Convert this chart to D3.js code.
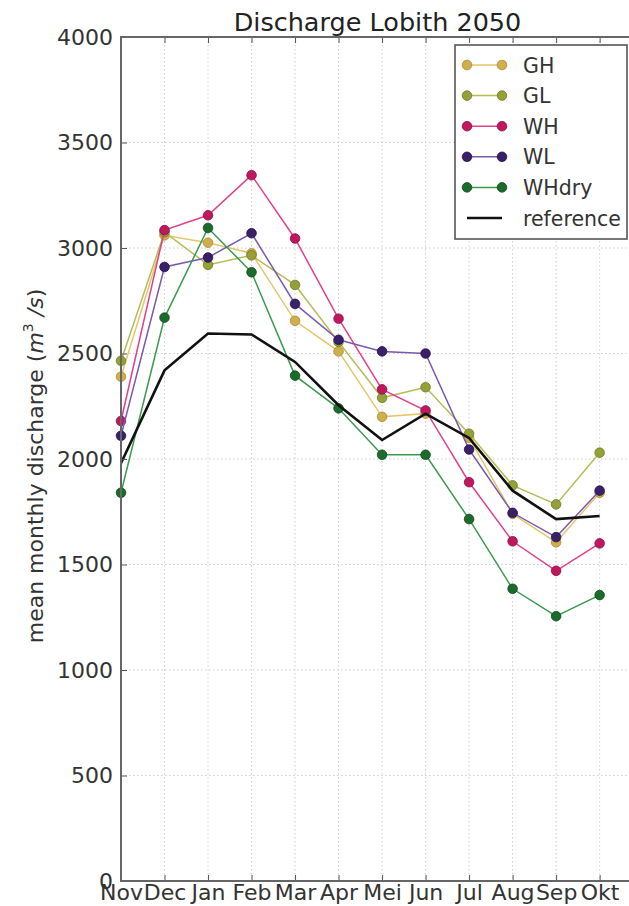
<!DOCTYPE html>
<html>
<head>
<meta charset="utf-8">
<script src="https://cdn.jsdelivr.net/npm/d3@7"></script>
<style>
  html, body { margin: 0; padding: 0; background: #fff; }
  svg { display: block; font-family: "DejaVu Sans", sans-serif; }
</style>
</head>
<body>
<svg id="chart" width="629" height="906"></svg>
<script>
'use strict';

// values
const months = ['Nov', 'Dec', 'Jan', 'Feb', 'Mar', 'Apr', 'Mei', 'Jun', 'Jul', 'Aug', 'Sep', 'Okt'];
const GH = [2390, 3060, 3025, 2975, 2655, 2510, 2200, 2215, 2100, 1740, 1605, 1840];
const GL = [2465, 3075, 2920, 2965, 2825, 2555, 2290, 2340, 2120, 1875, 1785, 2030];
const WH = [2180, 3085, 3155, 3345, 3045, 2665, 2330, 2230, 1890, 1610, 1470, 1600];
const WL = [2110, 2910, 2955, 3070, 2735, 2565, 2510, 2500, 2045, 1745, 1630, 1850];
const WHdry = [1840, 2670, 3095, 2885, 2395, 2240, 2020, 2020, 1715, 1385, 1255, 1355];
const reference = [1980, 2420, 2595, 2590, 2460, 2255, 2090, 2215, 2100, 1850, 1715, 1730];
const yTicks = [0, 500, 1000, 1500, 2000, 2500, 3000, 3500, 4000];

const series = [
    { name: 'GH', values: GH, line: '#e6c66a', dot: '#cfae4c', edge: '#a88a30' },
    { name: 'GL', values: GL, line: '#b4bd55', dot: '#96a038', edge: '#6e7a22' },
    { name: 'WH', values: WH, line: '#e2408c', dot: '#c0185e', edge: '#8a0e42' },
    { name: 'WL', values: WL, line: '#7a5ab0', dot: '#3a2068', edge: '#22104a' },
    { name: 'WHdry', values: WHdry, line: '#3c9a50', dot: '#1c6a2c', edge: '#0e4a1a' }
];

const svg = d3.select('#chart');
const mLeft = 121, mRight = 634, mTop = 37, mBottom = 881;

const x = d3.scaleLinear().domain([0, 11.79]).range([mLeft, mRight]);
const y = d3.scaleLinear().domain([0, 4000]).range([mBottom, mTop]);

// grid
const grid = svg.append('g').attr('stroke', '#cfcfcf').attr('stroke-width', 1)
    .attr('stroke-dasharray', '1.5,2.5');
grid.selectAll('line.v').data(d3.range(months.length)).enter().append('line')
    .attr('x1', d => x(d)).attr('x2', d => x(d)).attr('y1', mTop).attr('y2', mBottom);
grid.selectAll('line.h').data(yTicks).enter().append('line')
    .attr('x1', mLeft).attr('x2', mRight).attr('y1', d => y(d)).attr('y2', d => y(d));

// lines and markers
const line = d3.line().x((_, i) => x(i)).y(d => y(d));
series.forEach(s => {
    svg.append('path').datum(s.values).attr('d', line)
        .attr('fill', 'none').attr('stroke', s.line).attr('stroke-width', 1.5);
    svg.append('g').selectAll('circle').data(s.values).enter().append('circle')
        .attr('cx', (_, i) => x(i)).attr('cy', d => y(d)).attr('r', 4.8)
        .attr('fill', s.dot).attr('stroke', s.edge).attr('stroke-width', 0.8);
});
svg.append('path').datum(reference).attr('d', line)
    .attr('fill', 'none').attr('stroke', '#111').attr('stroke-width', 2.6);

// axes
const yAxis = svg.append('g').attr('transform', `translate(${mLeft},0)`)
    .call(d3.axisLeft(y).tickValues(yTicks).tickFormat(d3.format('d')).tickSize(-6).tickPadding(8));
const xAxis = svg.append('g').attr('transform', `translate(0,${mBottom})`)
    .call(d3.axisBottom(x).tickValues(d3.range(months.length)).tickFormat(i => months[i]).tickSize(-6).tickPadding(3));
svg.append('g').attr('transform', `translate(0,${mTop})`)
    .call(d3.axisTop(x).tickValues(d3.range(months.length)).tickFormat('').tickSize(-6));
svg.selectAll('.domain').remove();
svg.selectAll('.tick line').attr('stroke', '#555');
svg.selectAll('.tick text').attr('font-size', 22).attr('fill', '#333')
    .attr('font-family', '"DejaVu Sans", sans-serif');

// frame
svg.append('path')
    .attr('d', `M${mRight},${mTop}H${mLeft}V${mBottom}H${mRight}`)
    .attr('fill', 'none').attr('stroke', '#666').attr('stroke-width', 2);

// title and label
svg.append('text').attr('x', (mLeft + mRight) / 2).attr('y', 31)
    .attr('text-anchor', 'middle').attr('font-size', 25.5).attr('fill', '#222')
    .text('Discharge Lobith 2050');

const yl = svg.append('text').attr('transform', 'translate(43,466) rotate(-90)')
    .attr('text-anchor', 'middle').attr('font-size', 22).attr('fill', '#333');
yl.append('tspan').text('mean monthly discharge (');
yl.append('tspan').attr('font-style', 'italic').text('m');
yl.append('tspan').attr('font-size', 14).attr('dy', -10).text('3');
yl.append('tspan').attr('dy', 10).attr('font-style', 'italic').text(' /s');
yl.append('tspan').text(')');

// legend
const lg = svg.append('g').attr('transform', 'translate(455,45)');
lg.append('rect').attr('width', 172).attr('height', 194)
    .attr('fill', '#fff').attr('stroke', '#555').attr('stroke-width', 1.6);
const entries = series.concat([{ name: 'reference', ref: true }]);
const row = lg.selectAll('g.row').data(entries).enter().append('g')
    .attr('transform', (_, i) => `translate(0,${20 + i * 30.6})`);
row.append('line').attr('x1', 12).attr('x2', 47)
    .attr('stroke', d => d.ref ? '#111' : d.line).attr('stroke-width', d => d.ref ? 2.6 : 1.5);
row.filter(d => !d.ref).selectAll('circle').data(d => [12, 47].map(cx => ({ cx, d })))
    .enter().append('circle').attr('cx', p => p.cx).attr('cy', 0).attr('r', 4.8)
    .attr('fill', p => p.d.dot).attr('stroke', p => p.d.edge).attr('stroke-width', 0.8);
row.append('text').attr('x', 68).attr('y', 7.5).attr('font-size', 20.5).attr('fill', '#333')
    .text(d => d.name);
</script>
</body>
</html>
